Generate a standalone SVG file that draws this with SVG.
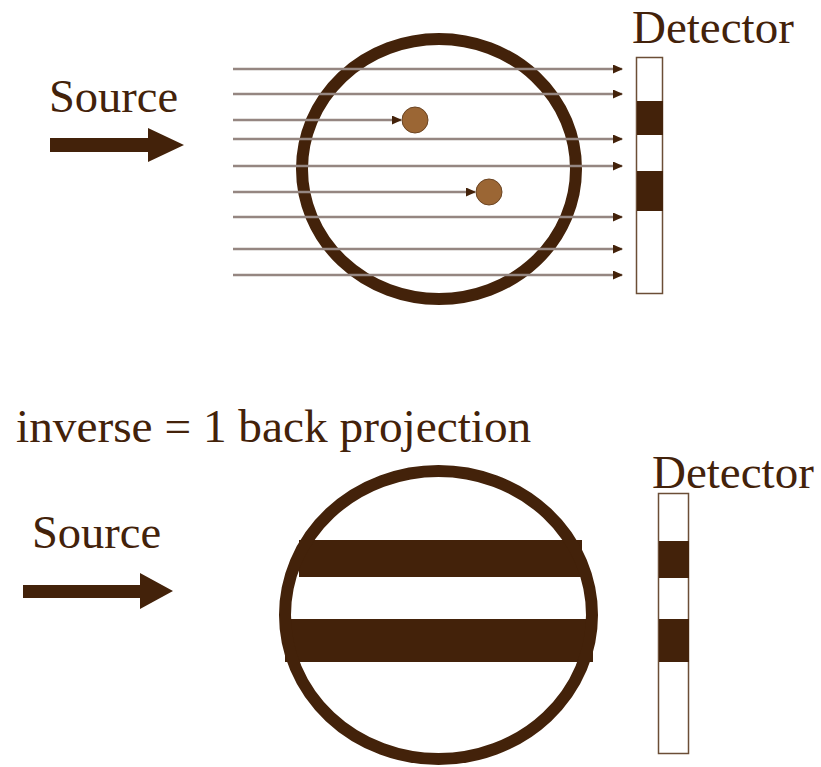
<svg xmlns="http://www.w3.org/2000/svg" width="821" height="767" viewBox="0 0 821 767">
<style>
text{font-family:"Liberation Serif","Times New Roman",serif;fill:#43220a;font-size:46.5px}
.ray{stroke:#958681;stroke-width:2.5;fill:none}
.ring{fill:none;stroke:#43220a;stroke-width:12}
.band{fill:#43220a}
.det{fill:#fff;stroke:#6b4e36;stroke-width:1.5}
.ball{fill:#9b6634;stroke:#6b4422;stroke-width:1}
.big{fill:#43220a}
</style>
<defs>
<marker id="ah" markerWidth="10" markerHeight="10" refX="9" refY="4.5" orient="auto" markerUnits="userSpaceOnUse">
<path d="M0,0 L10,4.5 L0,9 Z" fill="#43220a"/>
</marker>
</defs>
<g id="top-source">
<text x="49" y="112">Source</text>
<path class="big" d="M50,138 H148 V128 L184,145 L148,162 V152 H50 Z"/>
</g>
<g id="top-object">
<ellipse class="ring" cx="439" cy="169" rx="137" ry="130"/>
<circle id="ball1" class="ball" cx="415" cy="120" r="13"/>
<circle id="ball2" class="ball" cx="489" cy="192" r="13"/>
</g>
<g id="top-detector">
<text x="632" y="43" style="font-size:47px">Detector</text>
<rect class="det" x="636.5" y="57.5" width="26" height="236"/>
<rect class="band" x="637" y="101" width="26" height="34"/>
<rect class="band" x="637" y="171" width="26" height="40"/>
</g>
<g id="connectors">
<line class="ray" x1="233" y1="69" x2="622" y2="69" marker-end="url(#ah)"/>
<line class="ray" x1="233" y1="94" x2="622" y2="94" marker-end="url(#ah)"/>
<line class="ray" x1="233" y1="120" x2="401" y2="120" marker-end="url(#ah)"/>
<line class="ray" x1="233" y1="139" x2="622" y2="139" marker-end="url(#ah)"/>
<line class="ray" x1="233" y1="166" x2="622" y2="166" marker-end="url(#ah)"/>
<line class="ray" x1="233" y1="192" x2="475" y2="192" marker-end="url(#ah)"/>
<line class="ray" x1="233" y1="217" x2="622" y2="217" marker-end="url(#ah)"/>
<line class="ray" x1="233" y1="249" x2="622" y2="249" marker-end="url(#ah)"/>
<line class="ray" x1="233" y1="275" x2="622" y2="275" marker-end="url(#ah)"/>
</g>
<g id="caption">
<text x="16" y="442" style="font-size:47.3px">inverse = 1 back projection</text>
</g>
<g id="bottom-source">
<text x="32" y="548">Source</text>
<path class="big" d="M23,585 H140 V573 L173,591 L140,609 V598 H23 Z"/>
</g>
<g id="bottom-object">
<rect class="band" x="299" y="540" width="283" height="37"/>
<rect class="band" x="285" y="619" width="308" height="43"/>
<ellipse class="ring" cx="438.5" cy="615" rx="153.5" ry="144"/>
</g>
<g id="bottom-detector">
<text x="652" y="488" style="font-size:47px">Detector</text>
<rect class="det" x="658.5" y="493.5" width="30" height="260"/>
<rect class="band" x="659" y="541" width="30" height="37"/>
<rect class="band" x="659" y="619" width="30" height="43"/>
</g>
</svg>
